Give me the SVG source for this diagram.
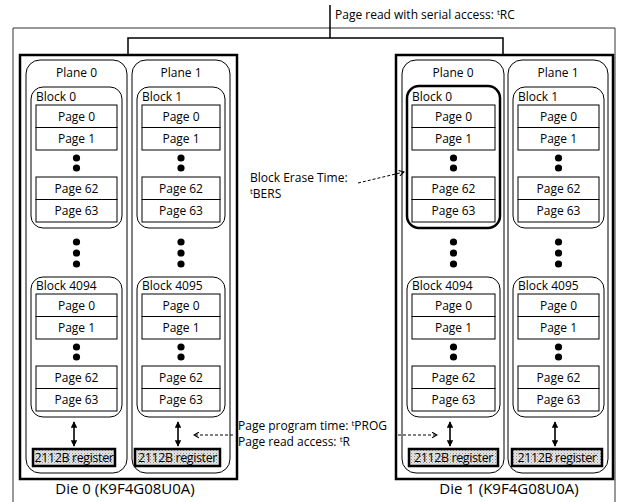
<svg xmlns="http://www.w3.org/2000/svg" width="617" height="502" viewBox="0 0 617 502">
<defs>
<style>
text{font-family:"Open Sans","Noto Sans","DejaVu Sans",sans-serif;fill:#000}
.die{fill:#fff;stroke:#000;stroke-width:2.5}
.plane{fill:#fff;stroke:#000;stroke-width:1}
.blk{fill:#fff;stroke:#000;stroke-width:1}
.blkb{fill:#fff;stroke:#000;stroke-width:2.5}
.pg{fill:#fff;stroke:#000;stroke-width:1}
.reg{fill:url(#dots);stroke:#000;stroke-width:2.5}
.lbl{font-size:12px}
.plbl{font-size:12px;text-anchor:middle}
.reglbl{font-size:12.5px;text-anchor:middle;letter-spacing:-0.4px}
.dielbl{font-size:15px;text-anchor:middle}
.note{font-size:12px}
.sup{font-size:8px}
.dot{fill:#000}
.dash{fill:none;stroke:#000;stroke-width:1;stroke-dasharray:3 2}
.dbl{stroke:#000;stroke-width:1.6;marker-start:url(#ah);marker-end:url(#ah)}
.frame{fill:none;stroke:#333;stroke-width:1}
</style>
<pattern id="dots" width="3" height="3" patternUnits="userSpaceOnUse">
<rect width="3" height="3" fill="#e6e6e6"/>
<rect width="1" height="1" fill="#8a8a8a"/>
<rect x="1.5" y="1.5" width="1" height="1" fill="#b0b0b0"/>
</pattern>
<marker id="ah" viewBox="0 0 10 10" refX="9" refY="5" markerWidth="4" markerHeight="4" orient="auto-start-reverse" markerUnits="strokeWidth">
<path d="M0,0 L10,5 L0,10 z" fill="#000"/>
</marker>
<marker id="oa" viewBox="0 0 10 10" refX="9" refY="5" markerWidth="7" markerHeight="7" orient="auto" markerUnits="userSpaceOnUse">
<path d="M2,1 L9,5 L2,9" fill="none" stroke="#000" stroke-width="1.6"/>
</marker>
</defs>
<rect width="617" height="502" fill="#fff"/>

<g id="frame">
<path class="frame" d="M13,502 L13,28 L615,28 L615,502"/>
</g>

<g id="title">
<text class="note" x="335" y="19">Page read with serial access: <tspan class="sup" dy="-4">t</tspan><tspan dy="4">RC</tspan></text>
</g>

<g id="erase-label">
<text class="note" x="250" y="182">Block Erase Time:</text>
<text class="note" x="250" y="198"><tspan class="sup" dy="-4">t</tspan><tspan dy="4">BERS</tspan></text>
</g>

<g id="prog-label">
<text class="note" x="238" y="430">Page program time: <tspan class="sup" dy="-4">t</tspan><tspan dy="4">PROG</tspan></text>
<text class="note" x="238" y="446">Page read access: <tspan class="sup" dy="-4">t</tspan><tspan dy="4">R</tspan></text>
</g>

<!-- ================= DIE 0 ================= -->
<g id="die0">
<rect class="die" x="20" y="55" width="217" height="424"/>
<text class="dielbl" x="125" y="494">Die 0 (K9F4G08U0A)</text>
</g>

<g id="die0-plane0">
<rect class="plane" x="26" y="60" width="101" height="413" rx="14"/>
<text class="plbl" x="76.5" y="77">Plane 0</text>
<g id="die0-block0">
<rect class="blk" x="31" y="87" width="91" height="141" rx="12"/>
<text class="lbl" x="36" y="101">Block 0</text>
<rect class="pg" x="36" y="105" width="81" height="22.5"/><text class="plbl" x="76.5" y="120.5">Page 0</text>
<rect class="pg" x="36" y="127.5" width="81" height="22.5"/><text class="plbl" x="76.5" y="143">Page 1</text>
<circle class="dot" cx="76.5" cy="158" r="3.6"/><circle class="dot" cx="76.5" cy="168" r="3.6"/>
<rect class="pg" x="36" y="177" width="81" height="22.5"/><text class="plbl" x="76.5" y="192.5">Page 62</text>
<rect class="pg" x="36" y="199.5" width="81" height="22.5"/><text class="plbl" x="76.5" y="215">Page 63</text>
</g>
<circle class="dot" cx="76.5" cy="242" r="3.6"/><circle class="dot" cx="76.5" cy="253" r="3.6"/><circle class="dot" cx="76.5" cy="264" r="3.6"/>
<g id="die0-block4094">
<rect class="blk" x="31" y="277" width="91" height="140" rx="12"/>
<text class="lbl" x="36" y="290">Block 4094</text>
<rect class="pg" x="36" y="294" width="81" height="22.5"/><text class="plbl" x="76.5" y="309.5">Page 0</text>
<rect class="pg" x="36" y="316.5" width="81" height="22.5"/><text class="plbl" x="76.5" y="332">Page 1</text>
<circle class="dot" cx="76.5" cy="347" r="3.6"/><circle class="dot" cx="76.5" cy="357" r="3.6"/>
<rect class="pg" x="36" y="366" width="81" height="22.5"/><text class="plbl" x="76.5" y="381.5">Page 62</text>
<rect class="pg" x="36" y="388.5" width="81" height="22.5"/><text class="plbl" x="76.5" y="404">Page 63</text>
</g>
<line class="dbl" x1="74" y1="422" x2="74" y2="446"/>
<g id="die0-reg0">
<rect class="reg" x="33" y="449" width="82" height="17"/>
<text class="reglbl" x="74" y="462">2112B register</text>
</g>
</g>

<g id="die0-plane1">
<rect class="plane" x="132" y="60" width="98" height="413" rx="14"/>
<text class="plbl" x="181" y="77">Plane 1</text>
<g id="die0-block1">
<rect class="blk" x="137" y="87" width="88" height="141" rx="12"/>
<text class="lbl" x="142" y="101">Block 1</text>
<rect class="pg" x="142" y="105" width="78" height="22.5"/><text class="plbl" x="181" y="120.5">Page 0</text>
<rect class="pg" x="142" y="127.5" width="78" height="22.5"/><text class="plbl" x="181" y="143">Page 1</text>
<circle class="dot" cx="181" cy="158" r="3.6"/><circle class="dot" cx="181" cy="168" r="3.6"/>
<rect class="pg" x="142" y="177" width="78" height="22.5"/><text class="plbl" x="181" y="192.5">Page 62</text>
<rect class="pg" x="142" y="199.5" width="78" height="22.5"/><text class="plbl" x="181" y="215">Page 63</text>
</g>
<circle class="dot" cx="181" cy="242" r="3.6"/><circle class="dot" cx="181" cy="253" r="3.6"/><circle class="dot" cx="181" cy="264" r="3.6"/>
<g id="die0-block4095">
<rect class="blk" x="137" y="277" width="88" height="140" rx="12"/>
<text class="lbl" x="142" y="290">Block 4095</text>
<rect class="pg" x="142" y="294" width="78" height="22.5"/><text class="plbl" x="181" y="309.5">Page 0</text>
<rect class="pg" x="142" y="316.5" width="78" height="22.5"/><text class="plbl" x="181" y="332">Page 1</text>
<circle class="dot" cx="181" cy="347" r="3.6"/><circle class="dot" cx="181" cy="357" r="3.6"/>
<rect class="pg" x="142" y="366" width="78" height="22.5"/><text class="plbl" x="181" y="381.5">Page 62</text>
<rect class="pg" x="142" y="388.5" width="78" height="22.5"/><text class="plbl" x="181" y="404">Page 63</text>
</g>
<line class="dbl" x1="178" y1="422" x2="178" y2="446"/>
<g id="die0-reg1">
<rect class="reg" x="135" y="449" width="85" height="17"/>
<text class="reglbl" x="177.5" y="462">2112B register</text>
</g>
</g>

<!-- ================= DIE 1 ================= -->
<g id="die1">
<rect class="die" x="396" y="55" width="217" height="424"/>
<text class="dielbl" x="509" y="494">Die 1 (K9F4G08U0A)</text>
</g>

<g id="die1-plane0">
<rect class="plane" x="402" y="60" width="102" height="413" rx="14"/>
<text class="plbl" x="453" y="77">Plane 0</text>
<g id="die1-block0">
<rect class="blkb" x="407" y="86" width="93" height="142" rx="12"/>
<text class="lbl" x="412" y="101">Block 0</text>
<rect class="pg" x="412" y="105" width="83" height="22.5"/><text class="plbl" x="453.5" y="120.5">Page 0</text>
<rect class="pg" x="412" y="127.5" width="83" height="22.5"/><text class="plbl" x="453.5" y="143">Page 1</text>
<circle class="dot" cx="453.5" cy="158" r="3.6"/><circle class="dot" cx="453.5" cy="168" r="3.6"/>
<rect class="pg" x="412" y="177" width="83" height="22.5"/><text class="plbl" x="453.5" y="192.5">Page 62</text>
<rect class="pg" x="412" y="199.5" width="83" height="22.5"/><text class="plbl" x="453.5" y="215">Page 63</text>
</g>
<circle class="dot" cx="453.5" cy="242" r="3.6"/><circle class="dot" cx="453.5" cy="253" r="3.6"/><circle class="dot" cx="453.5" cy="264" r="3.6"/>
<g id="die1-block4094">
<rect class="blk" x="407" y="277" width="93" height="140" rx="12"/>
<text class="lbl" x="412" y="290">Block 4094</text>
<rect class="pg" x="412" y="294" width="83" height="22.5"/><text class="plbl" x="453.5" y="309.5">Page 0</text>
<rect class="pg" x="412" y="316.5" width="83" height="22.5"/><text class="plbl" x="453.5" y="332">Page 1</text>
<circle class="dot" cx="453.5" cy="347" r="3.6"/><circle class="dot" cx="453.5" cy="357" r="3.6"/>
<rect class="pg" x="412" y="366" width="83" height="22.5"/><text class="plbl" x="453.5" y="381.5">Page 62</text>
<rect class="pg" x="412" y="388.5" width="83" height="22.5"/><text class="plbl" x="453.5" y="404">Page 63</text>
</g>
<line class="dbl" x1="450" y1="422" x2="450" y2="446"/>
<g id="die1-reg0">
<rect class="reg" x="409" y="449" width="89" height="17"/>
<text class="reglbl" x="453.5" y="462">2112B register</text>
</g>
</g>

<g id="die1-plane1">
<rect class="plane" x="508" y="60" width="100" height="413" rx="14"/>
<text class="plbl" x="558" y="77">Plane 1</text>
<g id="die1-block1">
<rect class="blk" x="513" y="87" width="91" height="141" rx="12"/>
<text class="lbl" x="518" y="101">Block 1</text>
<rect class="pg" x="518" y="105" width="81" height="22.5"/><text class="plbl" x="558.5" y="120.5">Page 0</text>
<rect class="pg" x="518" y="127.5" width="81" height="22.5"/><text class="plbl" x="558.5" y="143">Page 1</text>
<circle class="dot" cx="558.5" cy="158" r="3.6"/><circle class="dot" cx="558.5" cy="168" r="3.6"/>
<rect class="pg" x="518" y="177" width="81" height="22.5"/><text class="plbl" x="558.5" y="192.5">Page 62</text>
<rect class="pg" x="518" y="199.5" width="81" height="22.5"/><text class="plbl" x="558.5" y="215">Page 63</text>
</g>
<circle class="dot" cx="558.5" cy="242" r="3.6"/><circle class="dot" cx="558.5" cy="253" r="3.6"/><circle class="dot" cx="558.5" cy="264" r="3.6"/>
<g id="die1-block4095">
<rect class="blk" x="513" y="277" width="91" height="140" rx="12"/>
<text class="lbl" x="518" y="290">Block 4095</text>
<rect class="pg" x="518" y="294" width="81" height="22.5"/><text class="plbl" x="558.5" y="309.5">Page 0</text>
<rect class="pg" x="518" y="316.5" width="81" height="22.5"/><text class="plbl" x="558.5" y="332">Page 1</text>
<circle class="dot" cx="558.5" cy="347" r="3.6"/><circle class="dot" cx="558.5" cy="357" r="3.6"/>
<rect class="pg" x="518" y="366" width="81" height="22.5"/><text class="plbl" x="558.5" y="381.5">Page 62</text>
<rect class="pg" x="518" y="388.5" width="81" height="22.5"/><text class="plbl" x="558.5" y="404">Page 63</text>
</g>
<line class="dbl" x1="555" y1="422" x2="555" y2="446"/>
<g id="die1-reg1">
<rect class="reg" x="512" y="449" width="90" height="17"/>
<text class="reglbl" x="557" y="462">2112B register</text>
</g>
</g>

<g id="connectors">
<line x1="330" y1="5" x2="330" y2="38" stroke="#000" stroke-width="1.5"/>
<path d="M128,55 L128,38 L503,38 L503,55" fill="none" stroke="#000" stroke-width="1.5"/>
<line class="dash" x1="358" y1="183" x2="404" y2="172" marker-end="url(#oa)"/>
<line class="dash" x1="233" y1="435" x2="194" y2="435" marker-end="url(#oa)"/>
<line class="dash" x1="398" y1="435" x2="437" y2="435" marker-end="url(#oa)"/>
</g>
</svg>
